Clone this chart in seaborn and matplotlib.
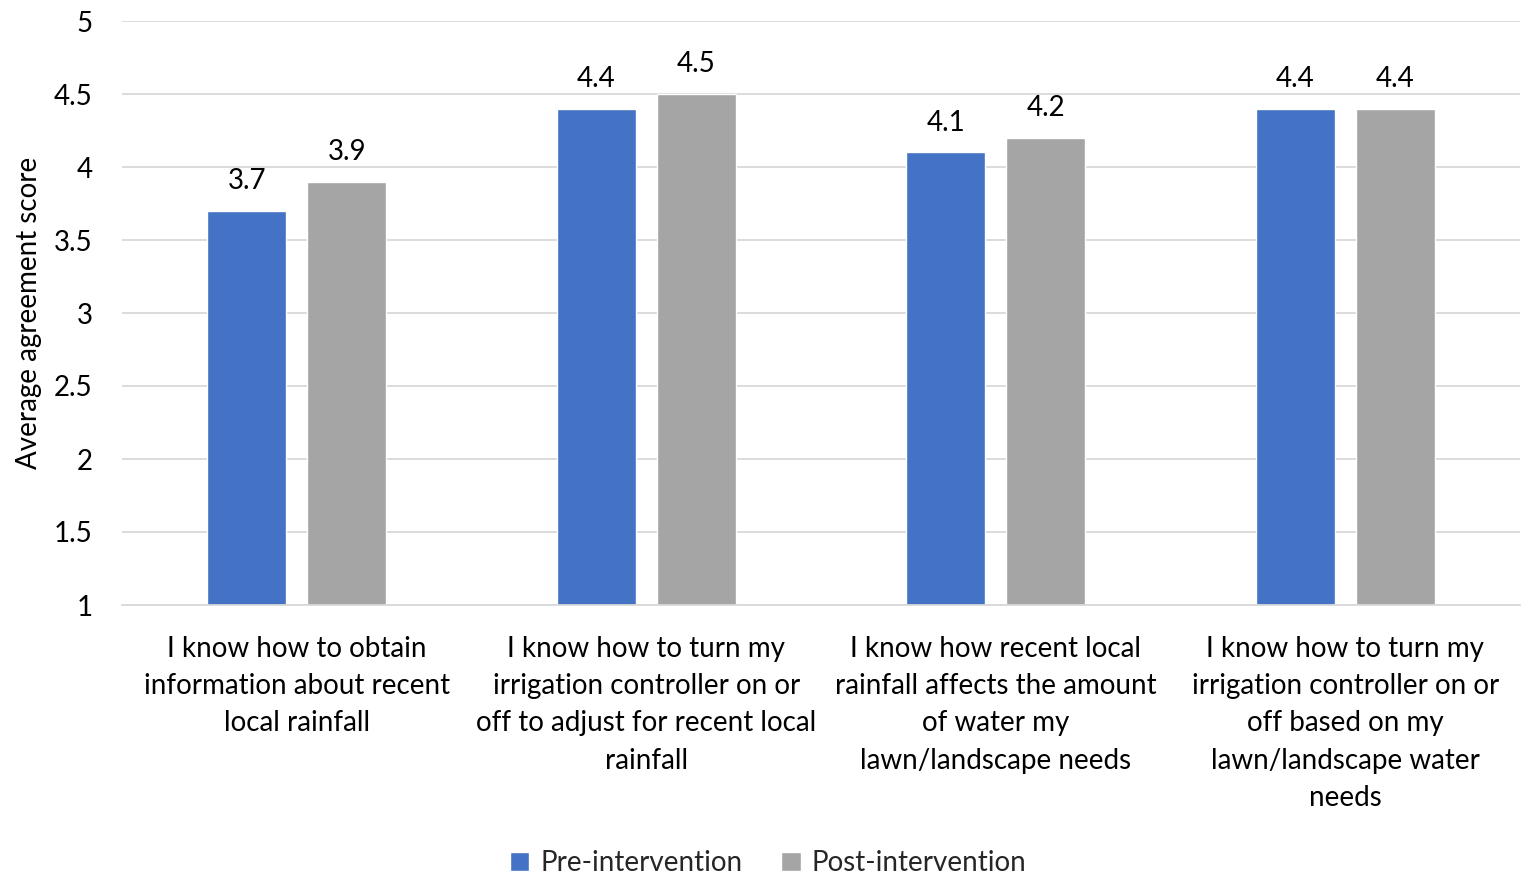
import matplotlib
matplotlib.use("Agg")
import matplotlib.pyplot as plt
import seaborn as sns
import pandas as pd

categories = [
    "I know how to obtain\ninformation about recent\nlocal rainfall",
    "I know how to turn my\nirrigation controller on or\noff to adjust for recent local\nrainfall",
    "I know how recent local\nrainfall affects the amount\nof water my\nlawn/landscape needs",
    "I know how to turn my\nirrigation controller on or\noff based on my\nlawn/landscape water\nneeds",
]
series_names = ["Pre-intervention", "Post-intervention"]
pre_values = [3.7, 4.4, 4.1, 4.4]
post_values = [3.9, 4.5, 4.2, 4.4]
y_ticks = [1, 1.5, 2, 2.5, 3, 3.5, 4, 4.5, 5]
y_tick_labels = ["1", "1.5", "2", "2.5", "3", "3.5", "4", "4.5", "5"]

rows = []
for c, p, q in zip(categories, pre_values, post_values):
    rows.append({"cat": c, "series": series_names[0], "val": p})
    rows.append({"cat": c, "series": series_names[1], "val": q})
df = pd.DataFrame(rows)

sns.set_theme(style="white")
plt.rcParams["font.family"] = ["Lato", "DejaVu Sans"]

fig = plt.figure(figsize=(15.36, 8.85), dpi=100)
ax = fig.add_axes([122/1536, 1-605/885, (1520-122)/1536, (605-21)/885])

sns.barplot(data=df, x="cat", y="val", hue="series", ax=ax,
            palette=["#4472C4", "#A5A5A5"], width=0.572, gap=0.21,
            saturation=1, legend=True)

ax.set_ylim(1, 5)
ax.set_yticks(y_ticks)
ax.set_yticklabels(y_tick_labels, fontsize=20)
ax.yaxis.grid(True, color="#D9D9D9", linewidth=1.3)
ax.set_axisbelow(True)
for s in ["top", "right", "left"]:
    ax.spines[s].set_visible(False)
ax.spines["bottom"].set_color("#D9D9D9")
ax.spines["bottom"].set_linewidth(1.3)
ax.tick_params(axis="y", length=0, pad=21, labelsize=20, labelcolor="black")
ax.tick_params(axis="x", length=0, pad=22, labelsize=20, labelcolor="black")
for lbl in ax.get_xticklabels():
    lbl.set_linespacing(1.54)
    lbl.set_verticalalignment("top")
ax.set_xlabel("")
ax.set_ylabel("Average agreement score", fontsize=20, labelpad=9, color="black")

for cont in ax.containers:
    ax.bar_label(cont, labels=[f"{v:.1f}" for v in cont.datavalues],
                 padding=12, fontsize=20, color="black")

handles, labels = ax.get_legend_handles_labels()
ax.get_legend().remove()
fig.legend(handles, labels, loc="center", bbox_to_anchor=(0.5, 1 - 863/885), ncol=2,
           frameon=False, fontsize=20, handlelength=0.7, handleheight=0.7,
           handletextpad=0.4, columnspacing=1.4, borderaxespad=0)

fig.savefig("out.png", dpi=100)
